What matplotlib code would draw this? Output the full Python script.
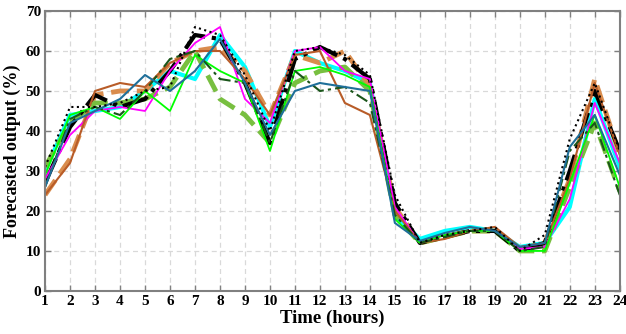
import numpy as np
import matplotlib
matplotlib.use("Agg")
import matplotlib.pyplot as plt

plt.rcParams["font.family"] = ["Liberation Serif", "DejaVu Serif"]
plt.rcParams["font.weight"] = "bold"

hours = list(range(1, 25))

# Forecasted output (%) for each forecast run
cyan_vals     = [30, 44, 45, 46, 50, 55, 53, 64, 56, 41, 60, 57, 55, 52, 19, 13, 15, 16, 15, 11, 12, 21, 48, 31]
orange_vals   = [24, 33, 49, 50, 50, 57, 60, 61, 55, 44, 59, 57, 60, 51, 21, 12, 13.5, 15, 15, 10.5, 12, 28, 53, 34]
yellow_vals   = [31, 42, 47, 47, 48, 51, 60, 48, 44, 37, 52, 55, 56, 50, 19, 12, 13.5, 15, 15, 10, 10, 26, 42, 25]
dashdot_vals  = [27, 41, 49, 46, 48, 55, 64, 63, 52, 37, 58, 61, 58, 53, 22, 12, 13.5, 15, 15, 10, 12, 30, 50, 35]
dotted_vals   = [31, 46, 46, 47, 50, 51, 66, 64, 54, 40, 60, 61, 59, 54, 24, 12, 14, 15, 16, 10, 14, 38, 52, 35]
magenta_vals  = [28, 39, 45, 46, 45, 55, 62, 66, 48, 42, 60, 61, 55, 53, 21, 12, 14, 15, 15, 10.5, 11, 23, 47, 32]
brown_vals    = [24, 32, 50, 52, 51, 57, 60, 60, 53, 44, 59, 60, 47, 44, 20, 12, 13, 15, 16, 11, 12, 28, 52, 34]
lime_vals     = [29, 44, 46, 43, 50, 45, 59, 55, 52, 35, 55, 56, 54, 51, 18, 12, 14, 15, 15, 10, 10, 27, 44, 26]
darkgrn_vals  = [26, 43, 46, 44, 50, 58, 60, 53, 52, 37, 55, 50, 51, 47, 19, 12, 13.5, 15, 15, 10, 11, 35, 42, 24]
teal_vals     = [26, 42, 45, 48, 54, 50, 55, 63, 52, 39, 50, 52, 51, 50, 17, 12.5, 14.5, 16, 15, 11, 12, 36, 44, 29]

fig = plt.figure(figsize=(6.26, 3.34), dpi=100)
ax = fig.add_axes([0.072, 0.129, 0.918, 0.838])

# thick lines first
ax.plot(hours, cyan_vals, color="cyan", lw=3)
ax.plot(hours, orange_vals, color="#D98C4D", lw=3.5, ls="--")
ax.plot(hours, yellow_vals, color="#78BF40", lw=3.5, ls="--")
ax.plot(hours, dashdot_vals, color="black", lw=3, ls="-.")
# thin lines
ax.plot(hours, magenta_vals, color="magenta", lw=1.3)
ax.plot(hours, brown_vals, color="#B85C28", lw=1.5)
ax.plot(hours, lime_vals, color="#00FF00", lw=1.3)
ax.plot(hours, darkgrn_vals, color="#1A551A", lw=1.5, ls=(0, (6, 2, 1.5, 2)))
ax.plot(hours, teal_vals, color="#1F6F99", lw=1.5)
ax.plot(hours, dotted_vals, color="black", lw=1.5, ls=":")

ax.set_xlim(1, 24)
ax.set_ylim(0, 70)
ax.set_xticks(hours)
ax.set_yticks(range(0, 71, 10))
ax.grid(True, ls=(0, (4, 3)), color="#d9d9d9", lw=0.9)
ax.set_axisbelow(True)

for s in ax.spines.values():
    s.set_color("#808080")
    s.set_linewidth(1.5)
ax.tick_params(direction="in", top=True, right=True, length=4, width=1,
               color="#808080", labelsize=11, pad=3)
for lbl in ax.get_xticklabels() + ax.get_yticklabels():
    lbl.set_fontweight("bold")

ax.set_xlabel("Time (hours)", fontsize=13.5, fontweight="bold", labelpad=1)
ax.set_ylabel("Forecasted output (%)", fontsize=13, fontweight="bold", labelpad=3)

fig.savefig("out.png", dpi=100)
